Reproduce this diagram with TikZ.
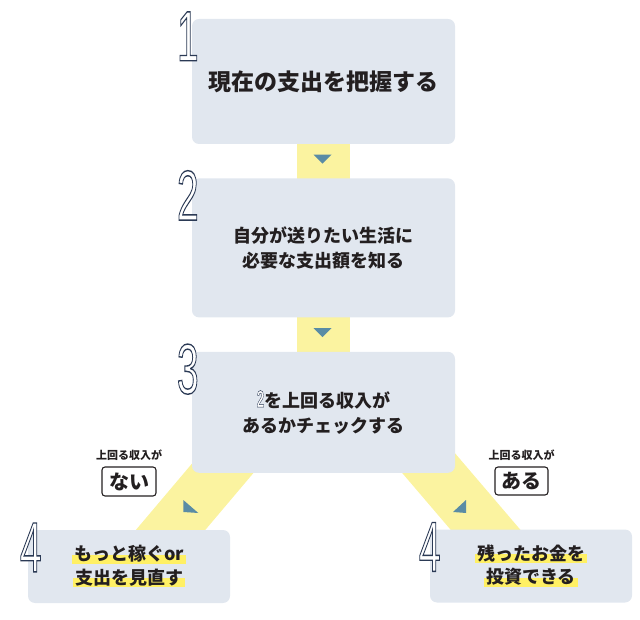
\documentclass[tikz,border=0pt]{standalone}
\usepackage{fontspec}
\usepackage{graphicx}
\setmainfont{Noto Sans CJK JP}
\newfontfamily\numfont{Liberation Sans}
\usetikzlibrary{positioning,calc,backgrounds}
\definecolor{inkc}{HTML}{231F20}
\definecolor{numc}{HTML}{2B3A55}
\definecolor{boxc}{HTML}{E1E7EF}
\definecolor{bandc}{HTML}{FBF3A0}
\definecolor{markc}{HTML}{FFF064}
\definecolor{tric}{HTML}{5A8CA5}
% outlined step number: fill white, stroke navy (text render mode 2)
\newcommand{\stepno}[3][71]{{\numfont\fontsize{#1}{#1}\selectfont\color{white}%
  \special{pdf:code 2 Tr #2 w 0.169 0.227 0.333 RG}\scalebox{0.55}[1]{#3}\special{pdf:code 0 Tr}}}
\tikzset{
  stepb/.style={fill=boxc,rounded corners=7pt,minimum width=263pt,inner sep=0pt,
                text=inkc,align=center,font=\fontsize{18}{25}\selectfont\bfseries},
  endb/.style ={stepb,minimum width=202pt,minimum height=73pt},
  band/.style ={draw=bandc,line width=53pt},
  tri/.style  ={fill=tric},
  hl/.style   ={inner xsep=2pt,inner ysep=0pt,text height=15pt,text depth=3pt,
                text=inkc,font=\fontsize{18}{18}\selectfont\bfseries,
                path picture={\fill[markc] (path picture bounding box.west)
                  rectangle (path picture bounding box.south east);}},
  tag/.style  ={draw=inkc,line width=1.1pt,rounded corners=3pt,minimum width=54pt,
                minimum height=29pt,inner sep=0pt,text=inkc,font=\fontsize{20}{20}\selectfont\bfseries},
  lbl/.style  ={inner sep=0pt,text=inkc,font=\fontsize{11}{11}\selectfont\bfseries},
  num/.style  ={anchor=base,inner sep=0pt},
}
\begin{document}
\begin{tikzpicture}[x=1pt,y=1pt]
\useasboundingbox (0,0) rectangle (640,619);

% --- steps 1-3 ---
\node[stepb,minimum height=125pt,font=\fontsize{23}{23}\selectfont\bfseries] (b1) at (323.5,537.5) {現在の支出を把握する};
\node[stepb,minimum height=139pt,below=34pt of b1] (b2) {自分が送りたい生活に\\必要な支出額を知る};
\node[stepb,minimum height=121pt,below=34pt of b2] (b3) {\stepno[24]{0.5}{2}を上回る収入が\\あるかチェックする};

% --- step 4, both ways ---
\node[endb] (b4l) at (129,52.5) {};
\node[endb] (b4r) at (531,53) {};
\node[hl] (l4a) at ($(b4l.center)+(0,11.75)$) {もっと稼ぐor};
\node[hl] (l4b) at ($(b4l.center)+(0,-11.75)$) {支出を見直す};
\node[hl] (r4a) at ($(b4r.center)+(0,11.75)$) {残ったお金を};
\node[hl] (r4b) at ($(b4r.center)+(0,-11.75)$) {投資できる};

% --- yes / no tags ---
\node[tag] (nai) at (129,137.5) {ない};
\node[lbl,above=6pt of nai] (nail) {上回る収入が};
\node[tag,minimum width=53pt,minimum height=28pt] (aru) at (521.5,138) {ある};
\node[lbl,above=6pt of aru] (arul) {上回る収入が};

% --- numbers ---
\node[num] (n1) at ($(b1.north west)+(-4,-42)$) {\stepno{1.4}{1}};
\node[num] (n2) at ($(b2.north west)+(-4,-42)$) {\stepno{1.4}{2}};
\node[num] (n3) at ($(b3.north west)+(-4,-42)$) {\stepno{1.4}{3}};
\node[num] (n4l) at ($(b4l.north west)+(3,-42)$) {\stepno{1.4}{4}};
\node[num] (n4r) at ($(b4r.north west)+(0,-42)$) {\stepno{1.4}{4}};

% --- connectors ---
\begin{scope}[on background layer]
  \draw[band] (b1.center) -- (b2.center);
  \draw[band] (b2.center) -- (b3.center);
  \draw[band] ($(b3.south west)+(54,32)$) -- ($(b4l.north west)+(126,-20)$);
  \draw[band] ($(b3.south east)+(-45.5,32)$) -- ($(b4r.north west)+(72.4,-20)$);
\end{scope}
\fill[tri] ($(b1.south)!.5!(b2.north)+(-10,6.5)$) -- ++(18,0) -- ++(-9,-9) -- cycle;
\fill[tri] ($(b2.south)!.5!(b3.north)+(-10,6.5)$) -- ++(18,0) -- ++(-9,-9) -- cycle;
\fill[tri] (183.3,119) -- (183.3,107) -- (198.3,106) -- cycle;
\fill[tri] (466,119) -- (453,107) -- (466,106) -- cycle;
\end{tikzpicture}
\end{document}
